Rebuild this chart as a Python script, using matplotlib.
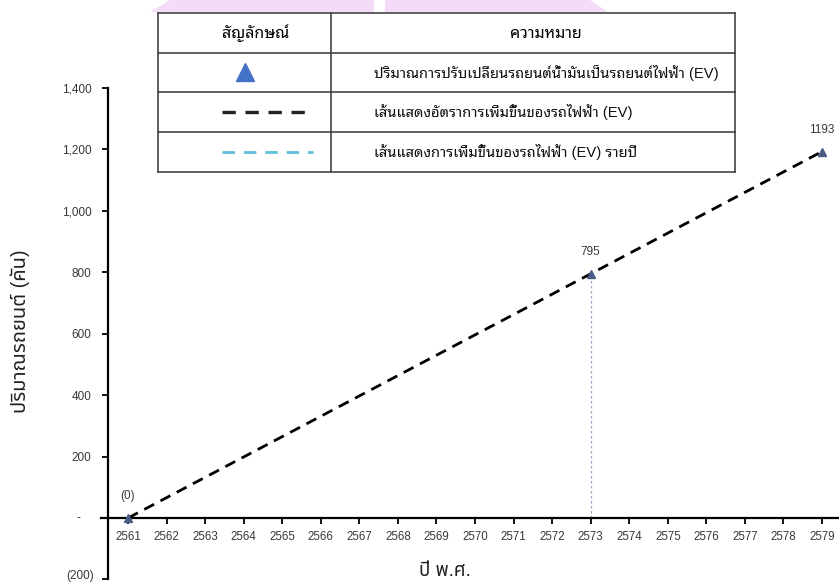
import matplotlib
matplotlib.use('Agg')
import matplotlib.pyplot as plt
from matplotlib import font_manager
from matplotlib.patches import Polygon

# data
years = [2561, 2573, 2579]
ev_cars = [0, 795, 1193]
point_labels = ['(0)', '795', '1193']
year_ticks = list(range(2561, 2580))
y_ticks = [-200, 0, 200, 400, 600, 800, 1000, 1200, 1400]
y_tick_labels = ['(200)', '-', '200', '400', '600', '800', '1,000', '1,200', '1,400']

legend_head = ['สัญลักษณ์', 'ความหมาย']
legend_rows = ['ปริมาณการปรับเปลี่ยนรถยนต์น้ำมันเป็นรถยนต์ไฟฟ้า (EV)',
               'เส้นแสดงอัตราการเพิ่มขึ้นของรถไฟฟ้า (EV)',
               'เส้นแสดงการเพิ่มขึ้นของรถไฟฟ้า (EV) รายปี']


def pick(names):
    have = {f.name for f in font_manager.fontManager.ttflist}
    for n in names:
        if n in have:
            return n
    return 'DejaVu Sans'


thai_plain = pick(['Noto Sans Thai', 'Kanit', 'Prompt', 'Sarabun'])
thai_looped = pick(['Noto Sans Thai Looped', 'Sarabun', 'Noto Sans Thai'])
fam_axis = ['Liberation Sans', thai_plain, 'DejaVu Sans']
fam_table = ['Liberation Sans', thai_looped, 'DejaVu Sans']
plt.rcParams['font.family'] = fam_axis

W, H = 839, 583
fig = plt.figure(figsize=(W / 100, H / 100), dpi=100)


def px(x, y):
    return (x / W, 1 - y / H)


# pink header shapes at the top edge
for pts in ([(150, 12), (170, 0), (374, 0), (374, 12)],
            [(385, 12), (385, 0), (590, 0), (608, 12)]):
    fig.patches.append(Polygon([px(*p) for p in pts], closed=True,
                               transform=fig.transFigure, facecolor='#f4dcf8',
                               edgecolor='none', zorder=0))

# axes: 1,400 at y=88 px, 0 at y=518 px
top_px, zero_px = 88, 518
per_unit = (zero_px - top_px) / 1400
bottom_px = zero_px + 200 * per_unit
ax = fig.add_axes([108 / W, 1 - bottom_px / H, 1 - 108 / W, (bottom_px - top_px) / H])
ax.set_xlim(2560.48, 2579.44)
ax.set_ylim(-200, 1400)

for s in ['top', 'right']:
    ax.spines[s].set_visible(False)
ax.spines['left'].set_linewidth(1.6)
ax.spines['bottom'].set_position(('data', 0))
ax.spines['bottom'].set_linewidth(1.6)
ax.spines['bottom'].set_bounds(2560.3, 2579.44)

ax.set_xticks(year_ticks)
ax.set_xticklabels([str(y) for y in year_ticks])
ax.set_yticks(y_ticks)
ax.set_yticklabels(['', ''] + y_tick_labels[2:])
ax.tick_params(axis='x', direction='out', length=4, width=1.3, pad=5,
               labelsize=8.3, labelcolor='#383838')
ax.tick_params(axis='y', direction='out', length=4, width=1.3, pad=8,
               labelsize=8.5, labelcolor='#383838')
# accounting-style labels for zero and the negative tick
ax.annotate(y_tick_labels[1], xy=(0, y_ticks[1]), xycoords=('axes fraction', 'data'),
            xytext=(-30, 0), textcoords='offset pixels', ha='center', va='center',
            fontsize=8.5, color='#383838')
ax.annotate(y_tick_labels[0], xy=(0, y_ticks[0]), xycoords=('axes fraction', 'data'),
            xytext=(-14, 3), textcoords='offset pixels', ha='right', va='center',
            fontsize=8.5, color='#383838')

# trend line and the yearly drop line
ax.plot(years, ev_cars, color='black', lw=2, dashes=(4, 2.6), zorder=3)
ax.plot([years[1], years[1]], [0, ev_cars[1]], color='#9aa6c4', lw=0.9,
        ls=(0, (2, 2)), zorder=2)
ax.plot(years, ev_cars, ls='none', marker='^', ms=6, color='#4a5c86', zorder=4,
        clip_on=False)
for x, y, t in zip(years, ev_cars, point_labels):
    ax.text(x, y + 70, t, ha='center', va='center', fontsize=8.5, color='#383838')

fig.text(20 / W, 1 - 331 / H, 'ปริมาณรถยนต์ (คัน)', rotation=90, ha='center',
         va='center', fontsize=14.5, color='#222222')
fig.text(445 / W, 1 - 571 / H, 'ปี พ.ศ.', ha='center', va='center', fontsize=13.5,
         color='#222222')

# symbol table
left, right, mid = 158, 735, 331
rows_y = [13, 53, 92, 132, 172]
lc = '#444444'
for yy in rows_y:
    fig.add_artist(plt.Line2D([left / W, right / W], [1 - yy / H] * 2, color=lc, lw=1.2))
for xx in (left, mid, right):
    fig.add_artist(plt.Line2D([xx / W] * 2, [1 - rows_y[0] / H, 1 - rows_y[-1] / H],
                              color=lc, lw=1.2))
fig.text(256 / W, 1 - 33 / H, legend_head[0], ha='center', va='center',
         fontsize=11.5, weight='bold', family=fam_table)
fig.text(546 / W, 1 - 33 / H, legend_head[1], ha='center', va='center',
         fontsize=11.5, weight='bold', family=fam_table)
for i, t in enumerate(legend_rows):
    cy = (rows_y[i + 1] + rows_y[i + 2]) / 2
    fig.text(374 / W, 1 - cy / H, t, ha='left', va='center', fontsize=10.6,
             family=fam_table, color='#111111')

fig.add_artist(plt.Line2D([245 / W], [1 - 72 / H], marker='^', ms=13,
                          color='#4472c4', ls='none'))
fig.add_artist(plt.Line2D([222 / W, 313 / W], [1 - 112 / H] * 2, color='#222222',
                          lw=2.4, dashes=(4, 2.9)))
fig.add_artist(plt.Line2D([222 / W, 313 / W], [1 - 152 / H] * 2, color='#5bc0d8',
                          lw=2.0, dashes=(4.5, 3.2)))

fig.savefig('out.png', dpi=100)
